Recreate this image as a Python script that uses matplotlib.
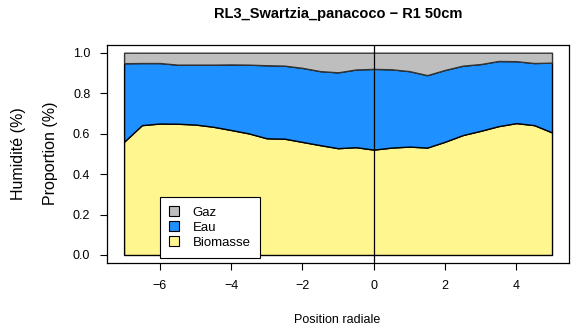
import matplotlib.pyplot as plt
from matplotlib.patches import Patch

plt.rcParams['font.family'] = ['Liberation Sans', 'DejaVu Sans']

# radial positions and component proportions
position = [-7.0, -6.5, -6.0, -5.5, -5.0, -4.5, -4.0, -3.5, -3.0, -2.5, -2.0, -1.5, -1.0,
            -0.5, 0.0, 0.5, 1.0, 1.5, 2.0, 2.5, 3.0, 3.5, 4.0, 4.5, 5.0]
biomasse = [0.560, 0.642, 0.650, 0.649, 0.645, 0.634, 0.618, 0.601, 0.577, 0.575, 0.559, 0.543, 0.528,
            0.533, 0.521, 0.531, 0.536, 0.531, 0.560, 0.593, 0.614, 0.637, 0.652, 0.642, 0.606]
eau = [0.388, 0.307, 0.299, 0.292, 0.296, 0.307, 0.324, 0.340, 0.361, 0.361, 0.366, 0.366, 0.375,
       0.384, 0.399, 0.387, 0.373, 0.358, 0.355, 0.343, 0.330, 0.322, 0.306, 0.307, 0.345]
gaz = [0.052, 0.051, 0.051, 0.059, 0.059, 0.059, 0.058, 0.059, 0.062, 0.064, 0.075, 0.091, 0.097,
       0.083, 0.080, 0.082, 0.091, 0.111, 0.085, 0.064, 0.056, 0.041, 0.042, 0.051, 0.049]

colors = {'Biomasse': '#FFF68F', 'Eau': '#1E90FF', 'Gaz': '#BEBEBE'}

fig = plt.figure(figsize=(5.72, 3.33), dpi=100)
ax = fig.add_axes([0.187, 0.21, 0.808, 0.656])

bio_top = [b for b in biomasse]
eau_top = [b + e for b, e in zip(biomasse, eau)]
gaz_top = [t + g for t, g in zip(eau_top, gaz)]

ax.fill_between(position, 0, bio_top, facecolor=colors['Biomasse'], edgecolor='black', lw=1.0)
ax.fill_between(position, bio_top, eau_top, facecolor=colors['Eau'], edgecolor='black', lw=1.0)
ax.fill_between(position, eau_top, gaz_top, facecolor=colors['Gaz'], edgecolor='#333333', lw=1.0)

ax.axvline(0, color='black', lw=0.9)

ax.set_xlim(-7.48, 5.48)
ax.set_ylim(-0.04, 1.04)
ax.set_xticks([-6, -4, -2, 0, 2, 4])
ax.set_xticklabels(['\u22126', '\u22124', '\u22122', '0', '2', '4'])
ax.set_yticks([0.0, 0.2, 0.4, 0.6, 0.8, 1.0])
ax.set_yticklabels(['0.0', '0.2', '0.4', '0.6', '0.8', '1.0'])
ax.tick_params(direction='out', length=5, width=0.8, labelsize=9, pad=7)
for s in ax.spines.values():
    s.set_linewidth(0.9)

ax.set_title('RL3_Swartzia_panacoco \u2212 R1 50cm', fontsize=10.5, fontweight='bold', pad=19)
fig.text(0.59, 0.038, 'Position radiale', ha='center', va='center', fontsize=9)
fig.text(0.033, 0.54, 'Humidité (%)', rotation=90, ha='center', va='center', fontsize=11.5)
fig.text(0.089, 0.54, 'Proportion (%)', rotation=90, ha='center', va='center', fontsize=11.5)

handles = [Patch(facecolor=colors[k], edgecolor='black', lw=0.8) for k in ['Gaz', 'Eau', 'Biomasse']]
leg = ax.legend(handles, ['Gaz', 'Eau', 'Biomasse'], loc='lower left',
                bbox_to_anchor=(0.115, 0.023), borderaxespad=0, fontsize=9.5,
                fancybox=False, framealpha=1, edgecolor='black',
                handlelength=0.75, handleheight=0.75, labelspacing=0.2,
                borderpad=0.7, handletextpad=1.0)
leg.get_frame().set_linewidth(0.8)

fig.savefig('out.png', dpi=100)
